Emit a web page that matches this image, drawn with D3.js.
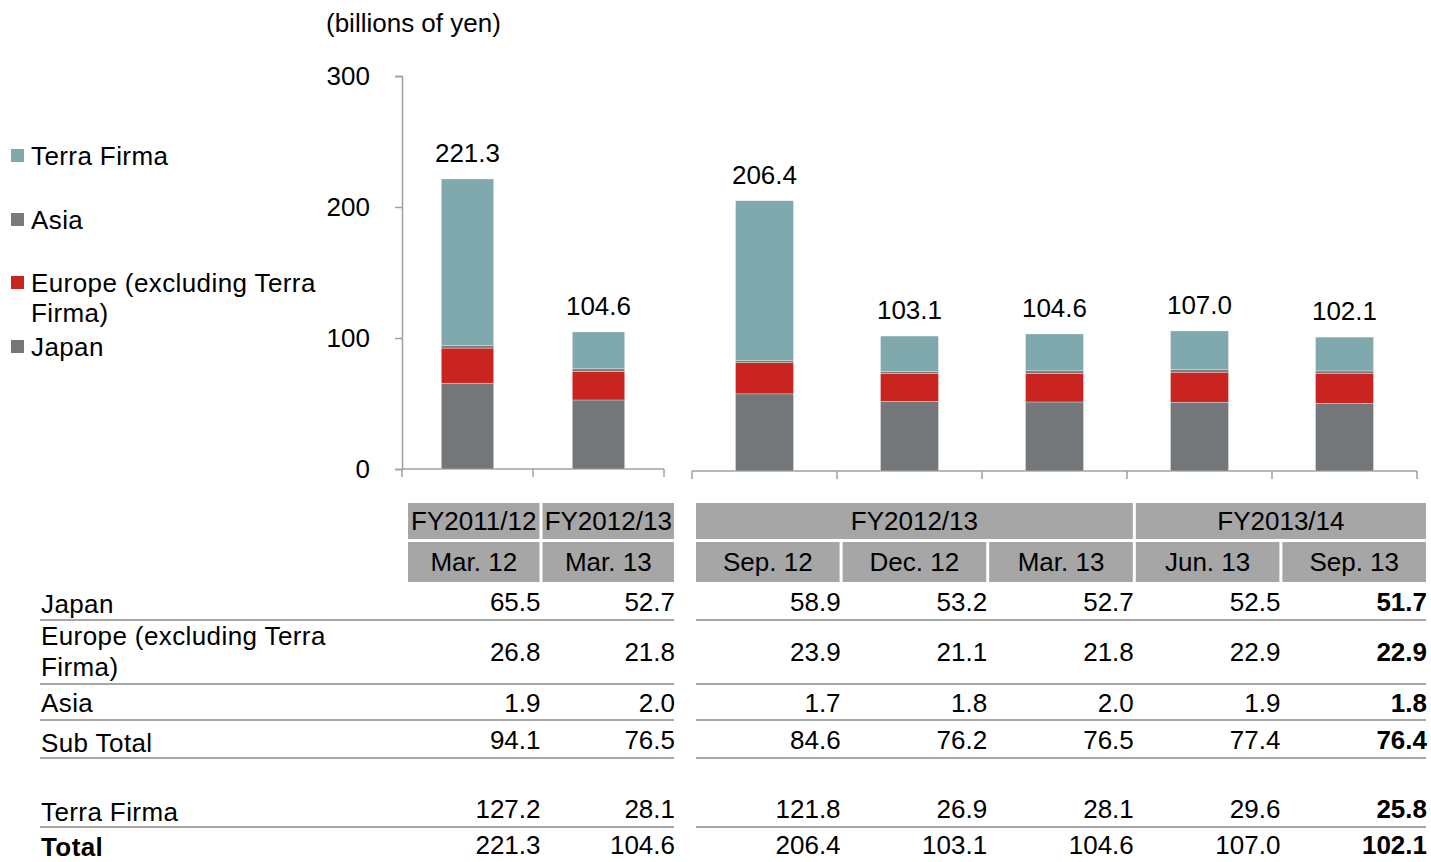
<!DOCTYPE html>
<html><head><meta charset="utf-8">
<script src="https://cdn.jsdelivr.net/npm/d3@7"></script>
<style>
body{margin:0;background:#fff;}
svg text{font-family:"Liberation Sans",Arial,sans-serif;font-size:26px;fill:#000;}
</style></head>
<body><svg id="c" width="1431" height="862"></svg>
<script>
// ---- data ----
const periods = ["Mar. 12","Mar. 13","Sep. 12","Dec. 12","Mar. 13","Jun. 13","Sep. 13"];
const fyLabels = ["FY2011/12","FY2012/13","FY2012/13","FY2013/14"];
const fySpans = [1,1,3,2];
const japan = [65.5,52.7,58.9,53.2,52.7,52.5,51.7];
const europe = [26.8,21.8,23.9,21.1,21.8,22.9,22.9];
const asia = [1.9,2.0,1.7,1.8,2.0,1.9,1.8];
const subTotal = [94.1,76.5,84.6,76.2,76.5,77.4,76.4];
const terraFirma = [127.2,28.1,121.8,26.9,28.1,29.6,25.8];
const total = [221.3,104.6,206.4,103.1,104.6,107.0,102.1];
const yTicks = [0,100,200,300];
const seriesNames = ["Japan","Europe (excluding Terra Firma)","Asia","Terra Firma"];
const colors = ["#737779","#ca2420","#7a7a7a","#80a9ad"];

const svg = d3.select("#c");
const rows = periods.map((p,i)=>({idx:i, Japan:japan[i], Europe:europe[i], Asia:asia[i], TF:terraFirma[i]}));
const stack = d3.stack().keys(["Japan","Europe","Asia","TF"])(rows);

// ---- scales ----
const yL = d3.scaleLinear().domain([0,300]).range([469,76]);
const xL = d3.scaleBand().domain([0,1]).range([402,664]);
const yR = d3.scaleLinear().domain([0,300]).range([471,78]);
const xR = d3.scaleBand().domain([2,3,4,5,6]).range([692,1417]);
const axisColor = "#a0a0a0";

const yAxis = svg.append("g").attr("transform","translate(402,0)")
  .call(d3.axisLeft(yL).tickValues(yTicks).tickSize(7).tickPadding(25));
yAxis.select(".domain").attr("stroke",axisColor).attr("stroke-width",1.5);
yAxis.selectAll(".tick line").attr("stroke",axisColor).attr("stroke-width",1.5);
yAxis.selectAll(".tick text").attr("font-size",null).attr("font-family",null).style("font-size","26px");

function xAxisDraw(scale, y, domainVals){
  const g = svg.append("g").attr("transform",`translate(0,${y})`);
  const r = scale.range();
  g.append("line").attr("x1",r[0]).attr("x2",r[1]).attr("y1",0).attr("y2",0)
    .attr("stroke",axisColor).attr("stroke-width",1.5);
  const edges = domainVals.map(d=>scale(d)).concat([r[1]]);
  g.selectAll("line.t").data(edges).join("line").attr("class","t")
    .attr("x1",d=>d).attr("x2",d=>d).attr("y1",0).attr("y2",8)
    .attr("stroke",axisColor).attr("stroke-width",1.5);
}
xAxisDraw(xL, 469, [0,1]);
xAxisDraw(xR, 471, [2,3,4,5,6]);

function bars(xs, ys, idxs){
  const bw = xs.bandwidth()*0.4;
  stack.forEach((layer,k)=>{
    svg.append("g").selectAll("rect").data(layer.filter(d=>idxs.includes(d.data.idx))).join("rect")
      .attr("x",d=>xs(d.data.idx)+(xs.bandwidth()-bw)/2)
      .attr("width",bw)
      .attr("y",d=>ys(d[1]))
      .attr("height",d=>ys(d[0])-ys(d[1]))
      .attr("fill",colors[k])
      .attr("stroke","#ffffff").attr("stroke-opacity",0.5).attr("stroke-width",0.6);
  });
  svg.append("g").selectAll("text").data(idxs).join("text")
    .attr("x",i=>xs(i)+xs.bandwidth()/2)
    .attr("y",i=>ys(total[i])-17)
    .attr("text-anchor","middle")
    .text(i=>total[i].toFixed(1));
}
bars(xL, yL, [0,1]);
bars(xR, yR, [2,3,4,5,6]);

svg.append("text").attr("x",326).attr("y",32).text("(billions of yen)");

// ---- legend ----
const legendItems = [
  {k:3, lines:["Terra Firma"], y:165},
  {k:2, lines:["Asia"], y:229},
  {k:1, lines:["Europe (excluding Terra","Firma)"], y:292},
  {k:0, lines:["Japan"], y:356}
];
const lg = svg.append("g");
legendItems.forEach(it=>{
  lg.append("rect").attr("x",11).attr("y",it.y-16).attr("width",13).attr("height",13).attr("fill",colors[it.k]);
  const t = lg.append("text").attr("x",31).attr("y",it.y).attr("letter-spacing","0.4px");
  it.lines.forEach((l,j)=>t.append("tspan").attr("x",31).attr("y",it.y+j*30).text(l));
});

// ---- table ----
const colX = d3.scaleBand().domain([0,1]).range([408,677]);
const colXR = d3.scaleBand().domain([2,3,4,5,6]).range([696,1429]);
const cellL = i => i<2 ? colX(i) : colXR(i);
const cellR = i => i<2 ? colX(i)+colX.step()-3 : colXR(i)+colXR.step()-3;
const hdrFill = "#a6a6a6";
let ci = 0;
fyLabels.forEach((lab,j)=>{
  const a = ci, b = ci+fySpans[j]-1;
  const x0 = cellL(a), x1 = cellR(b);
  svg.append("rect").attr("x",x0).attr("y",503).attr("width",x1-x0).attr("height",36).attr("fill",hdrFill);
  svg.append("text").attr("x",(x0+x1)/2).attr("y",530).attr("text-anchor","middle").text(lab);
  ci += fySpans[j];
});
periods.forEach((p,i)=>{
  const x0 = cellL(i), x1 = cellR(i);
  svg.append("rect").attr("x",x0).attr("y",542).attr("width",x1-x0).attr("height",40).attr("fill",hdrFill);
  svg.append("text").attr("x",(x0+x1)/2).attr("y",571).attr("text-anchor","middle").text(p);
});

const tableRows = [
  {label:["Japan"], vals:japan, vy:611, ly:613, line:620},
  {label:["Europe (excluding Terra","Firma)"], vals:europe, vy:661, ly:645, line:684},
  {label:["Asia"], vals:asia, vy:712, ly:712, line:720},
  {label:["Sub Total"], vals:subTotal, vy:749, ly:752, line:758},
  {label:["Terra Firma"], vals:terraFirma, vy:818, ly:821, line:827},
  {label:["Total"], vals:total, vy:854, ly:856, line:null, bold:true}
];
const lineColor = "#8a8a8a";
tableRows.forEach(r=>{
  const t = svg.append("text").attr("x",41).attr("y",r.ly).attr("font-weight",r.bold?"bold":null)
    .attr("letter-spacing","0.4px");
  r.label.forEach((l,j)=>t.append("tspan").attr("x",41).attr("y",r.ly+j*31).text(l));
  r.vals.forEach((v,i)=>{
    svg.append("text").attr("x",cellR(i)+1).attr("y",r.vy).attr("text-anchor","end")
      .attr("font-weight", i===6 ? "bold" : null).text(v.toFixed(1));
  });
  if(r.line!==null){
    svg.append("line").attr("x1",40).attr("x2",674).attr("y1",r.line).attr("y2",r.line).attr("stroke",lineColor).attr("stroke-width",1.6);
    svg.append("line").attr("x1",696).attr("x2",1426).attr("y1",r.line).attr("y2",r.line).attr("stroke",lineColor).attr("stroke-width",1.6);
  }
});
</script></body></html>
